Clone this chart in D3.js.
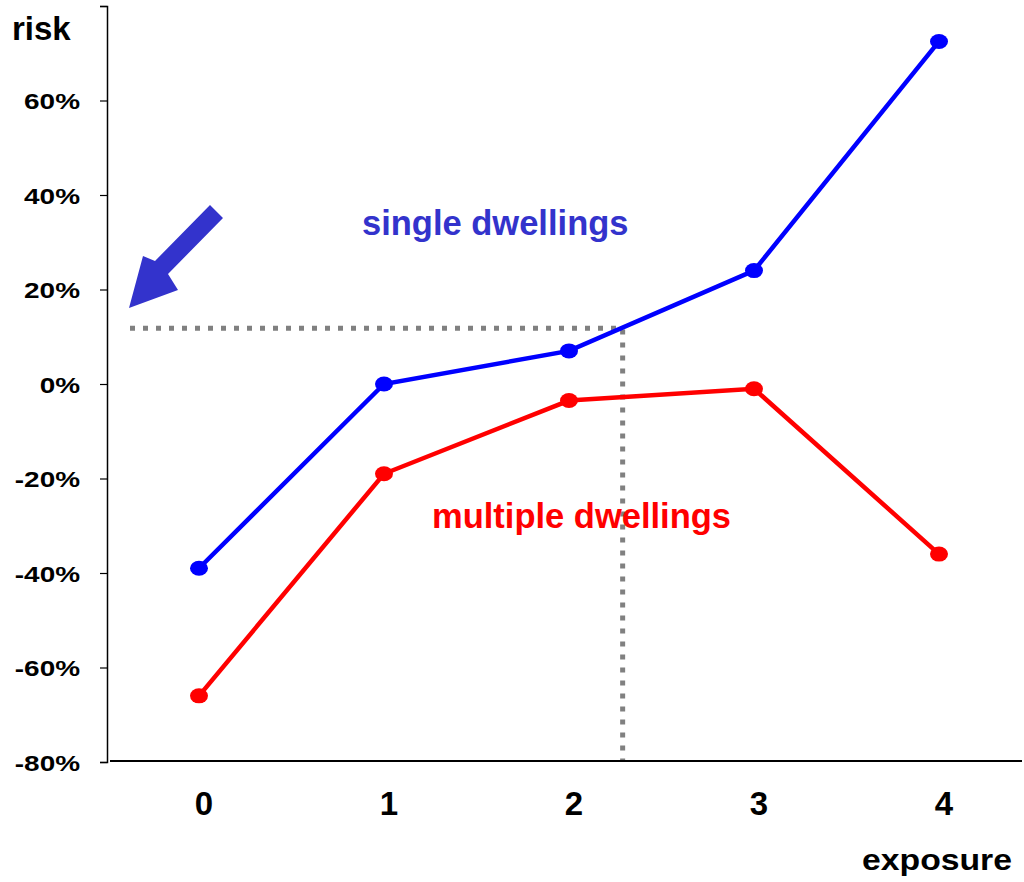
<!DOCTYPE html>
<html>
<head>
<meta charset="utf-8">
<script src="https://cdn.jsdelivr.net/npm/d3@7"></script>
<style>
  body { margin: 0; background: #fff; }
  text { font-family: "Liberation Sans", Arial, sans-serif; font-weight: bold; }
</style>
</head>
<body>
<div id="chart"></div>
<script>
// categories and values (risk in %)
var exposure = [0, 1, 2, 3, 4];
var singleDwellings = [-39, 0, 7, 24, 72.5];
var multipleDwellings = [-66, -19, -3.5, -1, -36];
var yTicks = [-80, -60, -40, -20, 0, 20, 40, 60, 80];
// reference guide: exposure 2.29 -> risk 11.8%
var guide = { x: 2.29, y: 11.8 };

var width = 1024, height = 882;

var svg = d3.select('#chart')
  .append('svg')
  .attr('width', width)
  .attr('height', height);

var x = d3.scaleLinear().domain([0, 4]).range([199, 939]);
var y = d3.scaleLinear().domain([-80, 80]).range([762, 6]);

// stretch text horizontally (the original labels are wide)
function widen(sel, k){
  sel.each(function(){
    var w = this.getComputedTextLength();
    if (w > 0) d3.select(this).attr('textLength', w * k).attr('lengthAdjust', 'spacingAndGlyphs');
  });
}

// y axis
var yAxis = svg.append('g')
  .attr('transform', 'translate(107,0)')
  .call(d3.axisLeft(y)
    .tickValues(yTicks)
    .tickSize(7)
    .tickPadding(20)
    .tickFormat(function(d){ return d === 80 ? '' : d + '%'; }));
yAxis.select('.domain').attr('stroke', '#000').attr('stroke-width', 1.5);
yAxis.selectAll('.tick line').attr('stroke', '#000').attr('stroke-width', 1.2);
yAxis.selectAll('.tick text')
  .attr('fill', '#000')
  .style('font-size', '22px')
  .attr('dy', '0.38em')
  .call(widen, 1.27);

// x axis line and labels
svg.append('line')
  .attr('x1', 110).attr('x2', 1022)
  .attr('y1', 761).attr('y2', 761)
  .attr('stroke', '#000').attr('stroke-width', 2);

svg.selectAll('.xlabel')
  .data(exposure)
  .enter()
  .append('text')
  .attr('class', 'xlabel')
  .attr('x', function(d){ return x(d) + 5; })
  .attr('y', 815)
  .attr('text-anchor', 'middle')
  .style('font-size', '33px')
  .text(function(d){ return d; });

// axis titles
svg.append('text').attr('x', 12).attr('y', 40)
  .style('font-size', '33px').text('risk');
svg.append('text').attr('x', 862).attr('y', 870)
  .style('font-size', '29px').text('exposure')
  .attr('textLength', 150).attr('lengthAdjust', 'spacingAndGlyphs');

// dotted guide lines
svg.append('path')
  .attr('d', 'M' + 130 + ',' + y(guide.y) + 'H' + x(guide.x) + 'V' + 760)
  .attr('fill', 'none')
  .attr('stroke', '#808080')
  .attr('stroke-width', 5)
  .attr('stroke-dasharray', '5,8');

// series
var line = d3.line()
  .x(function(d, i){ return x(exposure[i]); })
  .y(function(d){ return y(d); });

function drawSeries(values, color){
  svg.append('path')
    .datum(values)
    .attr('d', line)
    .attr('fill', 'none')
    .attr('stroke', color)
    .attr('stroke-width', 4.5);
  svg.selectAll(null)
    .data(values)
    .enter()
    .append('ellipse')
    .attr('cx', function(d, i){ return x(exposure[i]); })
    .attr('cy', function(d){ return y(d); })
    .attr('rx', 9)
    .attr('ry', 7.5)
    .attr('fill', color);
}
drawSeries(singleDwellings, '#0000ff');
drawSeries(multipleDwellings, '#ff0000');

// series labels
svg.append('text').attr('x', 362).attr('y', 235)
  .attr('fill', '#3333cc').style('font-size', '34.5px').text('single dwellings');
svg.append('text').attr('x', 432).attr('y', 528)
  .attr('fill', '#ff0000').style('font-size', '34.5px').text('multiple dwellings');

// block arrow pointing at the guide
svg.append('polygon')
  .attr('points', '223,218 210,205 155,261 143,256 129,308 178,290 168,274')
  .attr('fill', '#3333cc');
</script>
</body>
</html>
